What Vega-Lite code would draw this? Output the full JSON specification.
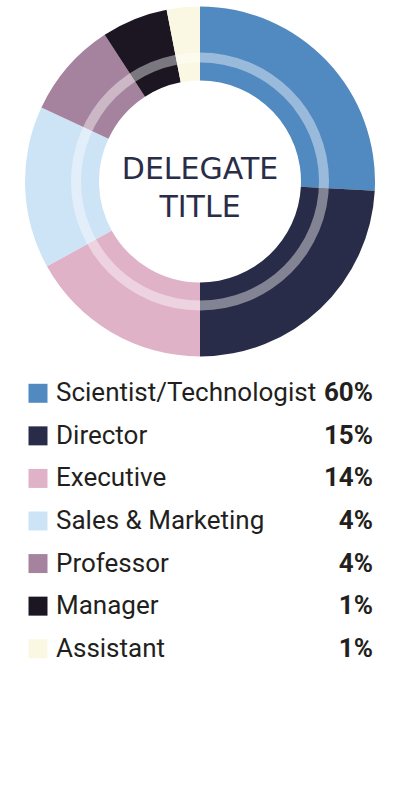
{
  "$schema": "https://vega.github.io/schema/vega-lite/v6.json",
  "padding": 0,
  "spacing": 9,
  "background": "white",
  "config": {"view": {"stroke": null}},
  "datasets": {
    "roles": [
      {"role": "Scientist/Technologist", "pct": "60%", "share": 93, "order": 1},
      {"role": "Director", "pct": "15%", "share": 87, "order": 2},
      {"role": "Executive", "pct": "14%", "share": 61, "order": 3},
      {"role": "Sales & Marketing", "pct": "4%", "share": 54, "order": 4},
      {"role": "Professor", "pct": "4%", "share": 32, "order": 5},
      {"role": "Manager", "pct": "1%", "share": 22, "order": 6},
      {"role": "Assistant", "pct": "1%", "share": 11, "order": 7}
    ]
  },
  "vconcat": [
    {
      "width": 400,
      "height": 363,
      "resolve": {"scale": {"theta": "independent"}},
      "layer": [
        {
          "data": {"name": "roles"},
          "mark": {"type": "arc", "innerRadius": 101, "outerRadius": 175},
          "encoding": {
            "theta": {"field": "share", "type": "quantitative", "stack": true},
            "order": {"field": "order", "type": "quantitative"},
            "color": {"field": "role", "type": "nominal", "legend": null,
              "scale": {
                "domain": ["Scientist/Technologist", "Director", "Executive", "Sales & Marketing", "Professor", "Manager", "Assistant"],
                "range": ["#5189c1", "#292c48", "#e0b2c8", "#cde4f6", "#a5839e", "#1c1622", "#faf8e2"]
              }
            }
          }
        },
        {
          "data": {"values": [{"ring": "inner guide", "full": 1}]},
          "mark": {"type": "arc", "innerRadius": 119, "outerRadius": 129, "fill": "white", "opacity": 0.42},
          "encoding": {"theta": {"field": "full", "type": "quantitative", "stack": true}}
        },
        {
          "data": {"values": [{"title": "DELEGATE\nTITLE"}]},
          "mark": {"type": "text", "lineBreak": "\n", "lineHeight": 38, "font": "DejaVu Sans", "fontSize": 30, "color": "#2a2d48", "align": "center", "baseline": "middle", "dy": -12},
          "encoding": {"text": {"field": "title"}}
        }
      ]
    },
    {
      "width": 400,
      "height": 298,
      "data": {"name": "roles"},
      "encoding": {
        "y": {"field": "role", "type": "nominal", "axis": null,
          "sort": {"field": "order"},
          "scale": {"paddingInner": 0, "paddingOuter": 0}}
      },
      "layer": [
        {
          "mark": {"type": "point", "shape": "square", "filled": true, "size": 361, "opacity": 1},
          "encoding": {
            "x": {"datum": 0.095, "type": "quantitative", "scale": {"domain": [0, 1]}, "axis": null},
            "color": {"field": "role", "type": "nominal", "legend": null}
          }
        },
        {
          "mark": {"type": "text", "align": "left", "baseline": "middle", "font": "Roboto", "fontSize": 26, "color": "#231f20"},
          "encoding": {
            "x": {"datum": 0.14, "type": "quantitative"},
            "text": {"field": "role"}
          }
        },
        {
          "mark": {"type": "text", "align": "right", "baseline": "middle", "font": "Roboto", "fontWeight": "bold", "fontSize": 26, "color": "#231f20"},
          "encoding": {
            "x": {"datum": 0.9325, "type": "quantitative"},
            "text": {"field": "pct"}
          }
        }
      ]
    }
  ]
}
